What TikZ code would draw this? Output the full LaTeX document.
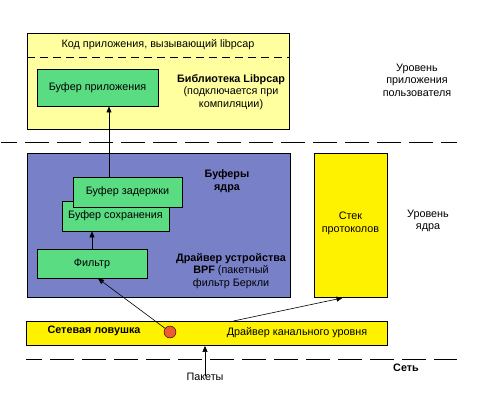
\documentclass[tikz,border=0pt]{standalone}
\usepackage{fontspec}
\setmainfont{Liberation Sans}
\usetikzlibrary{arrows.meta,positioning,calc}
\definecolor{paleyel}{RGB}{255,255,160}
\definecolor{kernblue}{RGB}{120,128,200}
\definecolor{bufgreen}{RGB}{90,220,130}
\definecolor{trapred}{RGB}{240,90,50}

\begin{document}
\begin{tikzpicture}[
  x=1pt,y=-1pt,
  font=\fontsize{10.8}{12.5}\selectfont,
  area/.style={rectangle,draw,line width=0.9pt,inner sep=0pt,anchor=north west},
  buf/.style={rectangle,draw,line width=0.9pt,fill=bufgreen,inner sep=0pt,align=center},
  lbl/.style={align=center,inner sep=0pt},
  level/.style={line width=1pt,dash pattern=on 24pt off 8pt,dash phase=8pt},
  arr/.style={-{Triangle[width=5pt,length=6pt]},line width=0.6pt}
]
  \useasboundingbox (0,0) rectangle (483,397);
  % user space
  \node[area,fill=paleyel,minimum width=262pt,minimum height=96pt] (user) at (27,33) {};
  \node[lbl] (code) at (158,45) {Код приложения, вызывающий libpcap};
  \draw[dash pattern=on 8pt off 5pt,line width=0.6pt] (user.west |- 0,57) -- (user.east |- 0,57);
  \node[buf,minimum width=121pt,minimum height=37pt] (appbuf) at (97.5,87.5) {Буфер приложения};
  \node[lbl] (libpcap) at (231,92) {\textbf{Библиотека Libpcap}\\(подключается при\\компиляции)};
  \draw[level] (1,142) -- (457,142);
  % kernel
  \node[area,fill=kernblue,minimum width=263pt,minimum height=144pt] (kernel) at (27,153) {};
  \node[buf,minimum width=107pt,minimum height=30pt] (savebuf) at (115.5,216) {\raisebox{-2pt}{Буфер сохранения}};
  \node[buf,minimum width=109pt,minimum height=30pt] (delaybuf) at (127.5,192) {Буфер задержки};
  \node[buf,minimum width=110pt,minimum height=29pt] (filter) at (92,263.5) {Фильтр};
  \node[lbl,font=\fontsize{10.8}{13}\selectfont\bfseries] (kbufs) at (227,181.5) {Буферы\\ядра};
  \node[lbl] (bpf) at (231,271) {\textbf{Драйвер устройства}\\\textbf{BPF} (пакетный\\фильтр Беркли};
  \node[area,fill=yellow,minimum width=73pt,minimum height=144pt] (stack) at (314,153) {};
  \node[lbl] (stacktxt) at (350.5,223.5) {Стек\\протоколов};
  \node[lbl] (klevel) at (428,221) {Уровень\\ядра};
  \node[lbl] (ulevel) at (417,80) {Уровень\\приложения\\пользователя};
  % link layer
  \node[area,fill=yellow,minimum width=361pt,minimum height=24pt] (link) at (26,321) {};
  \node[lbl,font=\fontsize{10.8}{12.5}\selectfont\bfseries] (traptxt) at (94,331) {Сетевая ловушка};
  \node[circle,draw,fill=trapred,minimum size=12pt,inner sep=0pt] (trap) at (170,332) {};
  \node[lbl] (linktxt) at (297,333) {Драйвер канального уровня};
  \draw[level] (26,359) -- (457,359);
  \node[lbl,font=\fontsize{10.8}{12.5}\selectfont\bfseries] (net) at (406,368) {Сеть};
  \node[lbl] (pkts) at (205,377) {Пакеты};
  % arrows
  \draw[arr] ([xshift=-18.5pt]delaybuf.north) -- ([xshift=-18.5pt]delaybuf.north |- appbuf.south);
  \draw[arr] (filter.north) -- (filter.north |- savebuf.south);
  \draw[arr] (trap) -- ([xshift=6pt]filter.south);
  \draw[arr] ([xshift=26.5pt]link.north) -- ([xshift=-8.5pt]stack.south);
  \draw[arr] ([yshift=-3pt]pkts.north) -- (pkts.north |- link.south);
\end{tikzpicture}
\end{document}
